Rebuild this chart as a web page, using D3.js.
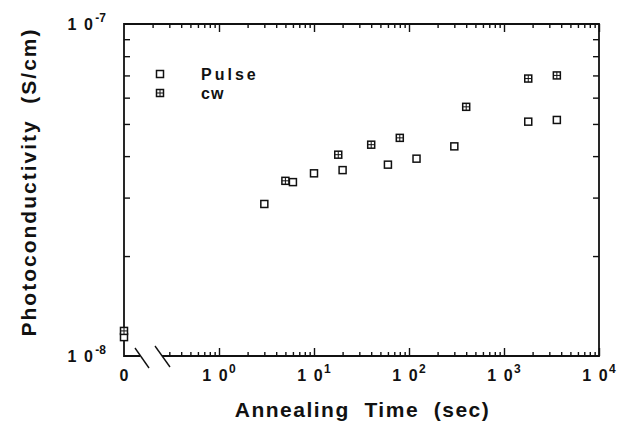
<!DOCTYPE html>
<html>
<head>
<meta charset="utf-8">
<script src="https://cdn.jsdelivr.net/npm/d3@7"></script>
<style>
  body { margin: 0; background: #fff; }
  text { font-family: "Liberation Sans", Arial, Helvetica, sans-serif; font-weight: bold; fill: #111; }
</style>
</head>
<body>
<svg id="chart" width="628" height="435"></svg>
<script>
// annealing time (s); 0 = as-deposited, drawn on the left axis
const pulseTime = [0, 3, 6, 10, 20, 60, 120, 300, 1800, 3600];
const pulseVal = [1.14e-8, 2.87e-8, 3.34e-8, 3.55e-8, 3.63e-8, 3.77e-8, 3.93e-8, 4.28e-8, 5.08e-8, 5.14e-8];
const cwTime = [0, 5, 18, 40, 80, 400, 1800, 3600];
const cwVal = [1.19e-8, 3.37e-8, 4.04e-8, 4.33e-8, 4.54e-8, 5.63e-8, 6.85e-8, 7.0e-8];

const xMajor = [0, 1, 2, 3, 4];          // exponents of 10
const yMajor = [-8, -7];
const seriesNames = ['Pulse', 'cw'];

const margin = { top: 24, right: 29, bottom: 79, left: 124 };
const width = 628 - margin.left - margin.right;
const height = 435 - margin.top - margin.bottom;

const svg = d3.select('#chart');
const g = svg.append('g').attr('transform', `translate(${margin.left},${margin.top})`);

const x = d3.scaleLog().domain([0.1, 1e4]).range([0, width]);
const y = d3.scaleLog().domain([1e-8, 1e-7]).range([height, 0]);
const xPos = t => t === 0 ? 0 : x(t);

// minor tick values
const xMinorBottom = [], xMinorTop = [];
for (let e = -1; e < 4; e++) {
    for (let m = 2; m <= 9; m++) {
        const v = m * Math.pow(10, e);
        if (v >= 0.2) xMinorTop.push(v);
        if (v >= 0.3) xMinorBottom.push(v);
    }
}
const yMinor = d3.range(2, 10).map(m => m * 1e-8);
const xMajorVals = xMajor.map(e => Math.pow(10, e));

// frame (bottom line broken near the origin)
const frame = g.append('g').attr('stroke', '#111').attr('stroke-width', 1.8).attr('fill', 'none');
frame.append('path').attr('d', `M16,${height}H0V0H${width}V${height}H38`);
frame.append('line').attr('x1', 11).attr('y1', height - 8).attr('x2', 25).attr('y2', height + 12).attr('stroke-width', 1.4);
frame.append('line').attr('x1', 31).attr('y1', height - 10).attr('x2', 46).attr('y2', height + 11).attr('stroke-width', 1.4);

function ticks(axis, values, size, dx, dy) {
    const a = g.append('g').attr('transform', `translate(${dx},${dy})`)
        .call(axis.tickValues(values).tickSize(size).tickFormat(() => ''));
    a.select('.domain').remove();
    a.selectAll('line').attr('stroke', '#111').attr('stroke-width', 1.4);
    return a;
}

// inward ticks on all four sides
ticks(d3.axisBottom(x), xMinorBottom, -4, 0, height);
ticks(d3.axisBottom(x), xMajorVals, -8, 0, height);
ticks(d3.axisTop(x), xMinorTop, -4, 0, 0);
ticks(d3.axisTop(x), xMajorVals, -8, 0, 0);
ticks(d3.axisLeft(y), yMinor, -6, 0, 0);
ticks(d3.axisRight(y), yMinor, -6, width, 0);

// x tick labels
g.append('text').attr('x', 0).attr('y', height + 25).attr('text-anchor', 'middle').style('font-size', '16px').text('0');
xMajor.forEach(e => {
    const t = g.append('text').attr('x', x(Math.pow(10, e))).attr('y', height + 25)
        .attr('text-anchor', 'middle').style('font-size', '16px');
    t.append('tspan').style('letter-spacing', '1.5px').text('1 0');
    t.append('tspan').attr('dy', -8).style('font-size', '12px').text(e);
});
// y tick labels
yMajor.forEach(e => {
    const t = g.append('text').attr('x', -18).attr('y', y(Math.pow(10, e)) + 6)
        .attr('text-anchor', 'end').style('font-size', '16px');
    t.append('tspan').style('letter-spacing', '1.5px').text('1 0');
    t.append('tspan').attr('dy', -8).attr('dx', 1).style('font-size', '12px').text(e);
});

// axis titles
g.append('text').attr('x', width / 2 + 1).attr('y', height + 61).attr('text-anchor', 'middle')
    .style('font-size', '21px').style('letter-spacing', '1.5px').attr('xml:space', 'preserve')
    .text('Annealing  Time  (sec)');
g.append('text').attr('transform', `translate(${-margin.left + 36},${height / 2 - 8}) rotate(-90)`)
    .attr('text-anchor', 'middle').style('font-size', '21px').style('letter-spacing', '2px')
    .attr('xml:space', 'preserve').text('Photoconductivity  (S/cm)');

// markers
function square(sel, cross) {
    sel.append('rect').attr('x', -3.5).attr('y', -3.5).attr('width', 7).attr('height', 7)
        .attr('fill', '#fff').attr('stroke', '#111').attr('stroke-width', 1.5);
    if (cross) {
        sel.append('path').attr('d', 'M0,-3.5V3.5M-3.5,0H3.5').attr('stroke', '#111').attr('stroke-width', 1);
    }
}
const pulse = pulseTime.map((t, i) => ({ t, v: pulseVal[i] }));
const cw = cwTime.map((t, i) => ({ t, v: cwVal[i] }));

g.selectAll('.pulse').data(pulse).enter().append('g').attr('class', 'pulse')
    .attr('transform', d => `translate(${xPos(d.t)},${y(d.v)})`)
    .each(function () { square(d3.select(this), false); });
g.selectAll('.cw').data(cw).enter().append('g').attr('class', 'cw')
    .attr('transform', d => `translate(${xPos(d.t)},${y(d.v)})`)
    .each(function () { square(d3.select(this), true); });

// legend
const legend = g.append('g').attr('transform', 'translate(36,50)');
seriesNames.forEach((name, i) => {
    const row = legend.append('g').attr('transform', `translate(0,${i * 19})`);
    square(row, i === 1);
    row.append('text').attr('x', 41).attr('y', 6).style('font-size', '16px')
        .style('letter-spacing', i === 0 ? '3px' : '1px').text(name);
});
</script>
</body>
</html>
